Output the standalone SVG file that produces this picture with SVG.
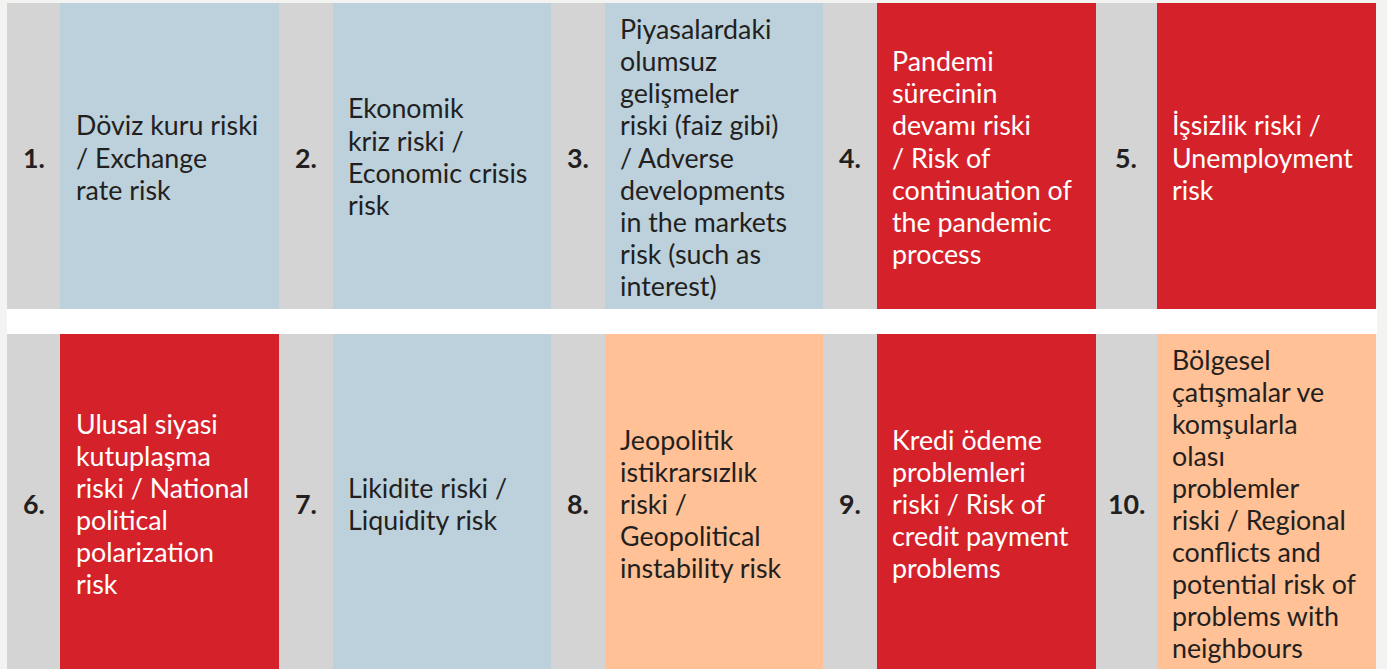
<svg xmlns="http://www.w3.org/2000/svg" width="1387" height="669" viewBox="0 0 1387 669">
<style>
.num{fill:#d4d4d4}
.blue{fill:#bcd1dc}
.red{fill:#d5222a}
.orange{fill:#ffc195}
text{font-family:Lato,"Noto Sans","Liberation Sans",sans-serif;font-size:26.8px}
.n{fill:#231f20;font-weight:700}
.d{fill:#231f20}
.w{fill:#ffffff}
</style>
<rect width="1387" height="669" fill="#f3f3f1"/>
<rect x="7" y="309" width="1370" height="25" fill="#ffffff"/>
<g id="row1" transform="translate(0,1)">
<g id="n1"><rect class="num" x="7" y="2" width="53" height="306"/><text class="n" x="23" y="167">1.</text></g>
<g id="c1"><rect class="blue" x="60" y="2" width="219" height="306"/><text class="d" x="76"><tspan x="76" y="134">Döviz kuru riski</tspan><tspan x="76" y="166.5">/ Exchange</tspan><tspan x="76" y="199">rate risk</tspan></text></g>
<g id="n2"><rect class="num" x="279" y="2" width="54" height="306"/><text class="n" x="295" y="167">2.</text></g>
<g id="c2"><rect class="blue" x="333" y="2" width="218" height="306"/><text class="d"><tspan x="348" y="117">Ekonomik</tspan><tspan x="348" y="149.5">kriz riski /</tspan><tspan x="348" y="182">Economic crisis</tspan><tspan x="348" y="214">risk</tspan></text></g>
<g id="n3"><rect class="num" x="551" y="2" width="54" height="306"/><text class="n" x="567" y="167">3.</text></g>
<g id="c3"><rect class="blue" x="605" y="2" width="218" height="306"/><text class="d"><tspan x="620" y="37.5">Piyasalardaki</tspan><tspan x="620" y="69.5">olumsuz</tspan><tspan x="620" y="102">gelişmeler</tspan><tspan x="620" y="134">riski (faiz gibi)</tspan><tspan x="620" y="166.5">/ Adverse</tspan><tspan x="620" y="199">developments</tspan><tspan x="620" y="231">in the markets</tspan><tspan x="620" y="263">risk (such as</tspan><tspan x="620" y="295">interest)</tspan></text></g>
<g id="n4"><rect class="num" x="823" y="2" width="54" height="306"/><text class="n" x="839" y="167">4.</text></g>
<g id="c4"><rect class="red" x="877" y="2" width="219" height="306"/><text class="w"><tspan x="892" y="69.5">Pandemi</tspan><tspan x="892" y="102">sürecinin</tspan><tspan x="892" y="134">devamı riski</tspan><tspan x="892" y="166.5">/ Risk of</tspan><tspan x="892" y="199">continuation of</tspan><tspan x="892" y="231">the pandemic</tspan><tspan x="892" y="263">process</tspan></text></g>
<g id="n5"><rect class="num" x="1096" y="2" width="61" height="306"/><text class="n" x="1115" y="167">5.</text></g>
<g id="c5"><rect class="red" x="1157" y="2" width="219" height="306"/><text class="w"><tspan x="1172" y="134">İşsizlik riski /</tspan><tspan x="1172" y="166.5">Unemployment</tspan><tspan x="1172" y="199">risk</tspan></text></g>
</g>
<g id="row2" transform="translate(0,1)">
<g id="n6"><rect class="num" x="7" y="333" width="53" height="336"/><text class="n" x="23" y="513">6.</text></g>
<g id="c6"><rect class="red" x="60" y="333" width="219" height="336"/><text class="w"><tspan x="76" y="432.5">Ulusal siyasi</tspan><tspan x="76" y="464.5">kutuplaşma</tspan><tspan x="76" y="497">riski / National</tspan><tspan x="76" y="529">political</tspan><tspan x="76" y="561">polarization</tspan><tspan x="76" y="593">risk</tspan></text></g>
<g id="n7"><rect class="num" x="279" y="333" width="54" height="336"/><text class="n" x="295" y="513">7.</text></g>
<g id="c7"><rect class="blue" x="333" y="333" width="218" height="336"/><text class="d"><tspan x="348" y="497">Likidite riski /</tspan><tspan x="348" y="529">Liquidity risk</tspan></text></g>
<g id="n8"><rect class="num" x="551" y="333" width="54" height="336"/><text class="n" x="567" y="513">8.</text></g>
<g id="c8"><rect class="orange" x="605" y="333" width="218" height="336"/><text class="d"><tspan x="620" y="448.5">Jeopolitik</tspan><tspan x="620" y="480.5">istikrarsızlık</tspan><tspan x="620" y="513">riski /</tspan><tspan x="620" y="545">Geopolitical</tspan><tspan x="620" y="577">instability risk</tspan></text></g>
<g id="n9"><rect class="num" x="823" y="333" width="54" height="336"/><text class="n" x="839" y="513">9.</text></g>
<g id="c9"><rect class="red" x="877" y="333" width="219" height="336"/><text class="w"><tspan x="892" y="448.5">Kredi ödeme</tspan><tspan x="892" y="480.5">problemleri</tspan><tspan x="892" y="513">riski / Risk of</tspan><tspan x="892" y="545">credit payment</tspan><tspan x="892" y="577">problems</tspan></text></g>
<g id="n10"><rect class="num" x="1096" y="333" width="61" height="336"/><text class="n" x="1108" y="513">10.</text></g>
<g id="c10"><rect class="orange" x="1157" y="333" width="219" height="336"/><text class="d"><tspan x="1172" y="368.5">Bölgesel</tspan><tspan x="1172" y="400.5">çatışmalar ve</tspan><tspan x="1172" y="432.5">komşularla</tspan><tspan x="1172" y="464.5">olası</tspan><tspan x="1172" y="497">problemler</tspan><tspan x="1172" y="529">riski / Regional</tspan><tspan x="1172" y="561">conflicts and</tspan><tspan x="1172" y="593">potential risk of</tspan><tspan x="1172" y="625">problems with</tspan><tspan x="1172" y="657">neighbours</tspan></text></g>
</g>
<g id="connectors"/>
</svg>
